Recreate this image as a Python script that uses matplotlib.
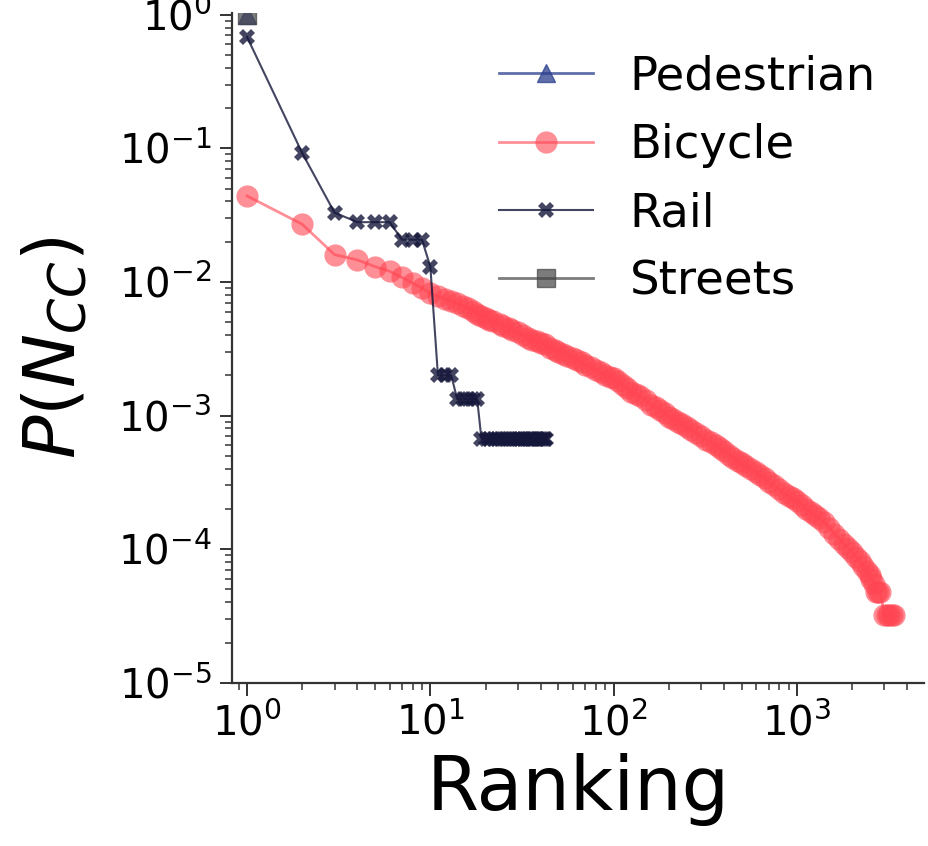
import numpy as np
import matplotlib
matplotlib.use('Agg')
from matplotlib import pyplot as plt

# rank-size distributions of connected components
ped_rank = [1]
ped_p = [1.0]

bike_rank = [1, 2, 3, 4, 5, 6, 7, 8, 9, 10, 11, 12, 13,
             14, 15, 16, 17, 18, 19, 20, 21, 22, 24, 25, 27, 28, 30, 32, 34, 36, 38,
             40, 42, 45, 48, 50, 53, 56, 60, 63, 67, 70, 75, 80, 85, 90, 95, 100,
             106, 112, 118, 125, 132, 140, 150, 160, 170, 180, 190, 200, 212, 225,
             236, 250, 265, 280, 300, 320, 340, 360, 380, 400, 425, 450, 475, 500,
             530, 560, 600, 630, 670, 700, 750, 800, 850, 900, 950, 1000, 1060,
             1120, 1190, 1250, 1320, 1400, 1500, 1600, 1700, 1800, 1900, 2000,
             2100, 2200, 2300, 2400, 2500, 2550, 2650, 2700, 2780, 2850,
             3000, 3100, 3200, 3300, 3400]
bike_p = [0.044, 0.027, 0.016, 0.0146, 0.0130, 0.0120, 0.0108, 0.0098, 0.0090, 0.0082,
          0.0078, 0.0075, 0.0072,
          0.0069, 0.0066, 0.0064, 0.0061, 0.0058, 0.0056, 0.0054, 0.0052, 0.0051,
          0.0048, 0.0047, 0.0045, 0.0044, 0.0042, 0.0040, 0.0038, 0.0037, 0.0036,
          0.0035, 0.0034, 0.0032, 0.0031, 0.0030, 0.0029, 0.0028, 0.0027, 0.0026,
          0.0025, 0.0024, 0.0023, 0.0022, 0.0021, 0.0020, 0.00195, 0.0019,
          0.0018, 0.0017, 0.0016, 0.0015, 0.00145, 0.0014, 0.0013, 0.0012, 0.00115,
          0.0011, 0.00104, 0.00098, 0.00094, 0.00090, 0.00086, 0.00082, 0.00078,
          0.00074, 0.00070, 0.00066, 0.00063, 0.00060, 0.00057, 0.00054, 0.00051,
          0.00048, 0.00046, 0.00044, 0.00042, 0.00040, 0.00038, 0.00036, 0.00034,
          0.00032, 0.00030, 0.00028, 0.000265, 0.00025, 0.00024, 0.00023, 0.000215,
          0.00020, 0.00019, 0.00018, 0.00017, 0.00016, 0.000145, 0.00013, 0.00012,
          0.00011, 0.000102, 0.000095, 0.000088, 0.000082, 0.000075, 0.000068,
          0.000064, 0.000060, 0.000055, 0.000048, 0.000048, 0.000048,
          0.000032, 0.000032, 0.000032, 0.000032, 0.000032]

rail_rank = list(range(1, 44))
rail_p = ([0.68, 0.092, 0.033, 0.028, 0.028, 0.028, 0.0207, 0.0207, 0.0207, 0.013,
           0.002, 0.002, 0.002, 0.00133, 0.00133, 0.00133, 0.00133, 0.00133]
          + [0.00067] * 25)

street_rank = [1]
street_p = [1.0]

plt.rcParams['font.family'] = 'DejaVu Sans'

fig = plt.figure(figsize=(9.29, 8.46), dpi=100)
ax = fig.add_axes([0.25, 0.193, 0.745, 0.792])

ax.plot(ped_rank, ped_p, '-^', color='#2b3f8c', alpha=0.75, lw=2, ms=13, label='Pedestrian')
ax.plot(bike_rank, bike_p, '-o', color='#ff4552', alpha=0.6, lw=2, ms=16, mew=0, label='Bicycle')
ax.plot(rail_rank, rail_p, '-X', color='#14173a', alpha=0.8, lw=1.5, ms=12, mew=0, label='Rail')
ax.plot(street_rank, street_p, '-s', color='#444444', alpha=0.7, lw=2, ms=13, label='Streets')

ax.set_xscale('log')
ax.set_yscale('log')
ax.set_xlim(0.83, 4960)
ax.set_ylim(1e-5, 1.035)

for s in ['top', 'right']:
    ax.spines[s].set_visible(False)
for s in ['left', 'bottom']:
    ax.spines[s].set_color('#333333')
    ax.spines[s].set_linewidth(1.6)

ax.tick_params(which='major', length=9, width=1.4, color='#333333', labelsize=29, pad=6)
ax.tick_params(which='minor', length=5, width=1.1, color='#333333')

ax.set_xlabel('Ranking', fontsize=54, labelpad=6)
ax.set_ylabel(r'$P(N_{CC})$', fontsize=52, labelpad=20)

ax.legend(loc='upper right', bbox_to_anchor=(0.957, 0.965), frameon=False,
          fontsize=33.5, labelspacing=0.5, handlelength=2.0, handletextpad=0.8,
          borderaxespad=0)

fig.savefig('out.png', dpi=100)
